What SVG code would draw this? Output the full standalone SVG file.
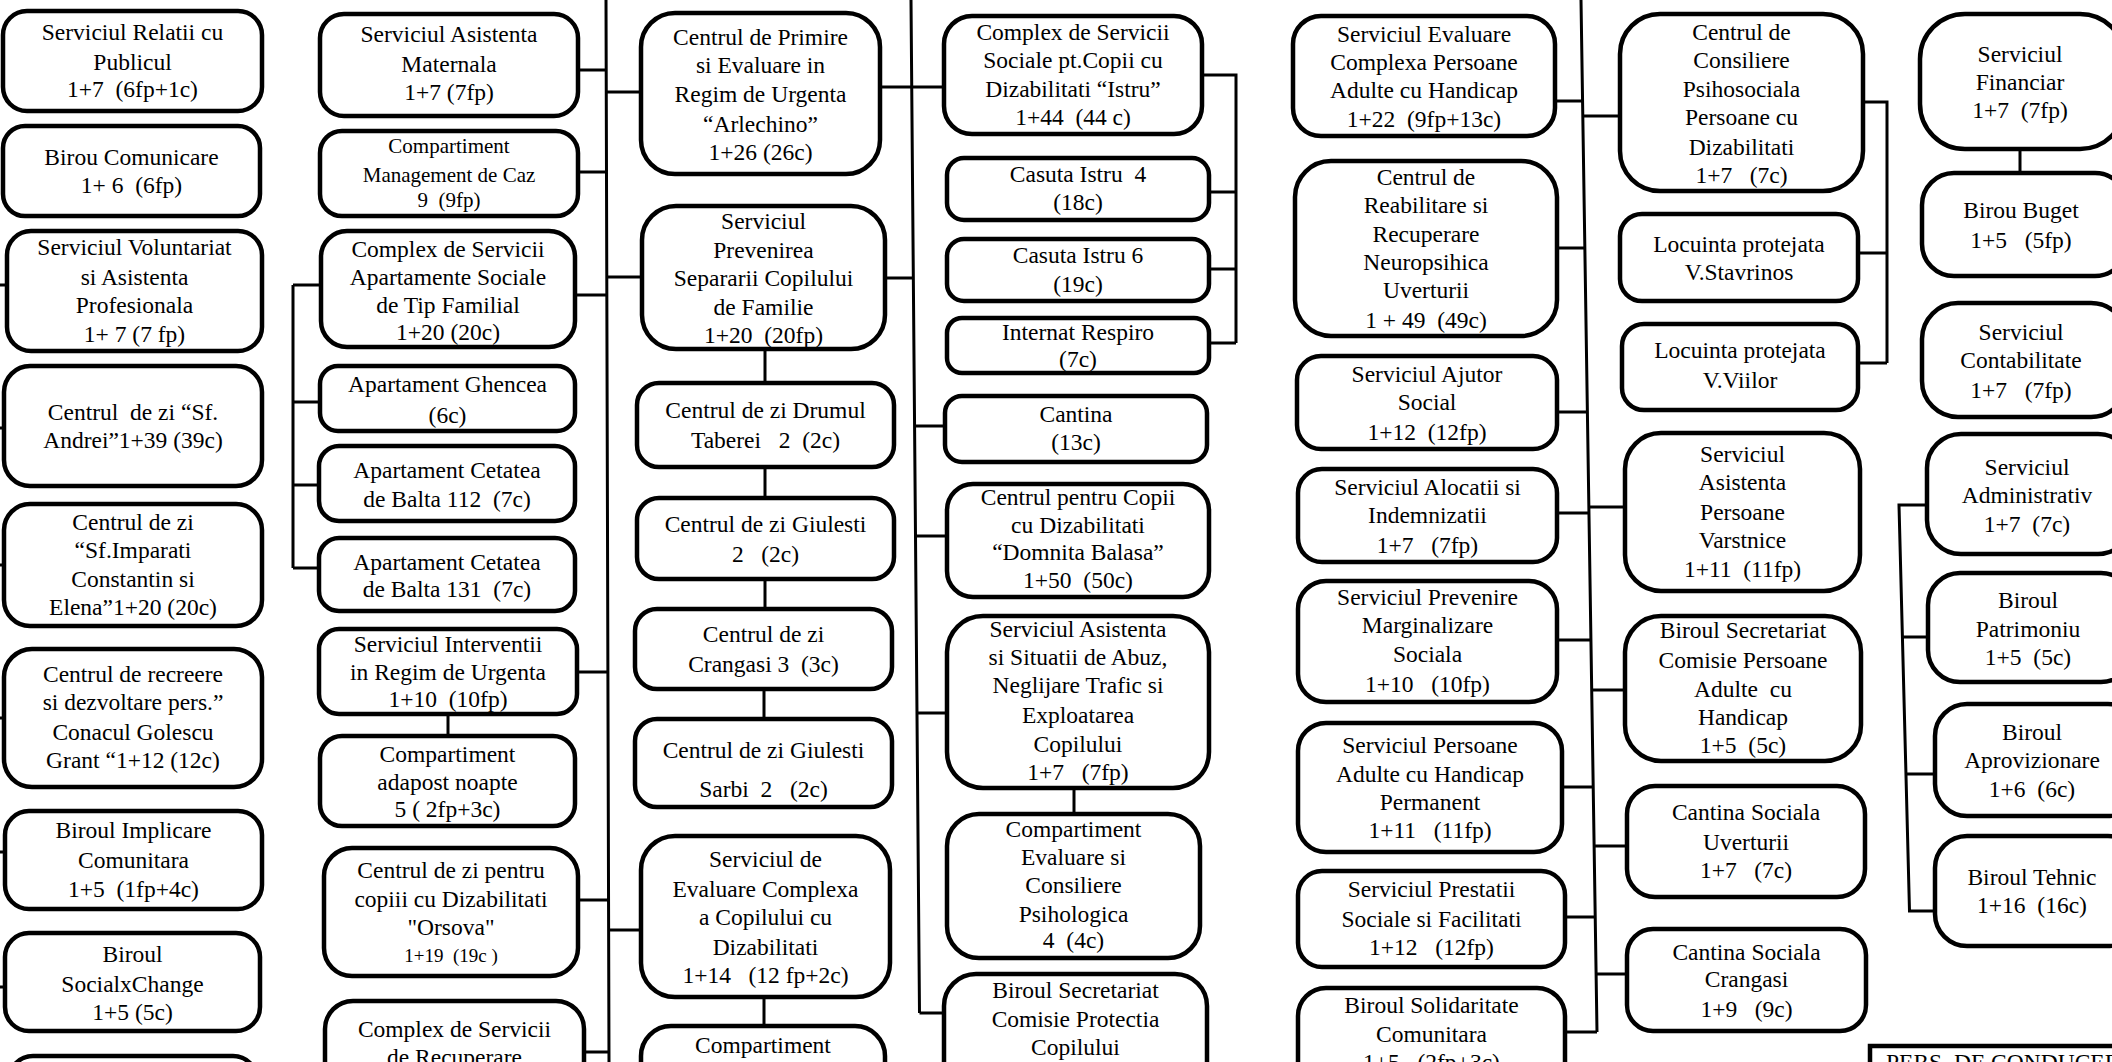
<svg xmlns="http://www.w3.org/2000/svg" width="2112" height="1062" viewBox="0 0 2112 1062">
<style>
.b{fill:#fff;stroke:#000;stroke-width:4.5}
.q{fill:#fff;stroke:#000;stroke-width:4.5}
.t{font-family:"Liberation Serif","Times New Roman",serif;font-size:23.5px;text-anchor:middle;fill:#000}
.s{font-size:21px}
.xs{font-size:19px}
.c{stroke:#000;stroke-width:3;fill:none}
</style>
<rect x="0" y="0" width="2112" height="1062" fill="#fff"/>
<g id="connectors">
<path class="c" d="M0 285H7M0 428H4M0 565H4M0 718H4M0 852H5M0 987H5"/>
<path class="c" d="M293 285V568M293 285H321M293 402H320M293 485H319M293 568H319"/>
<path class="c" d="M606 0L609 1062M578 70H606M578 172H606M575 295H606M606 92H641M606 277H642M577 672H607M578 900H608M608 930H641M584 1052H609"/>
<path class="c" d="M448 714V736"/>
<path class="c" d="M911 0L919.5 1013M880 87H944M885 278H914M915.5 426H945M916 536H947M918 713H947M919.5 1013H944"/>
<path class="c" d="M765 349V383M765 467V498M765 579V609M764 689V719M764 997V1026"/>
<path class="c" d="M1202 75H1236V343M1209 192H1236M1209 269H1236M1209 343H1236"/>
<path class="c" d="M1074 788V814"/>
<path class="c" d="M1581 0L1597 1032M1555 101H1582.5M1557 248H1585M1557 412H1587M1557 513H1589M1557 640H1591M1562 787H1593M1565 917H1595M1565 1032H1597M1583 116H1620M1589 507H1625M1592 690H1625M1594 846H1627M1596 974H1627"/>
<path class="c" d="M1863 102H1887V363M1858 253H1887M1858 363H1887"/>
<path class="c" d="M2020 149V173"/>
<path class="c" d="M1927 505H1899L1909.5 911H1935M1902.4 637H1928M1906 774H1935"/>
</g>
<g id="n1"><rect class="b" x="3" y="11" width="259" height="100" rx="24"/><text class="t" xml:space="preserve"><tspan x="132.5" y="40">Serviciul Relatii cu</tspan><tspan x="132.5" y="70">Publicul</tspan><tspan x="132.5" y="97">1+7  (6fp+1c)</tspan></text></g>
<g id="n2"><rect class="b" x="3" y="126" width="257" height="90" rx="22"/><text class="t" xml:space="preserve"><tspan x="131.5" y="165">Birou Comunicare</tspan><tspan x="131.5" y="193">1+ 6  (6fp)</tspan></text></g>
<g id="n3"><rect class="b" x="7" y="231" width="255" height="120" rx="24"/><text class="t" xml:space="preserve"><tspan x="134.5" y="255">Serviciul Voluntariat</tspan><tspan x="134.5" y="285">si Asistenta</tspan><tspan x="134.5" y="313">Profesionala</tspan><tspan x="134.5" y="342">1+ 7 (7 fp)</tspan></text></g>
<g id="n4"><rect class="b" x="4" y="366" width="258" height="120" rx="26"/><text class="t" xml:space="preserve"><tspan x="133" y="420">Centrul  de zi “Sf.</tspan><tspan x="133" y="448">Andrei”1+39 (39c)</tspan></text></g>
<g id="n5"><rect class="b" x="4" y="504" width="258" height="122" rx="26"/><text class="t" xml:space="preserve"><tspan x="133" y="530">Centrul de zi</tspan><tspan x="133" y="558">“Sf.Imparati</tspan><tspan x="133" y="587">Constantin si</tspan><tspan x="133" y="615">Elena”1+20 (20c)</tspan></text></g>
<g id="n6"><rect class="b" x="4" y="649" width="258" height="138" rx="28"/><text class="t" xml:space="preserve"><tspan x="133" y="682">Centrul de recreere</tspan><tspan x="133" y="710">si dezvoltare pers.”</tspan><tspan x="133" y="740">Conacul Golescu</tspan><tspan x="133" y="768">Grant “1+12 (12c)</tspan></text></g>
<g id="n7"><rect class="b" x="5" y="811" width="257" height="98" rx="24"/><text class="t" xml:space="preserve"><tspan x="133.5" y="838">Biroul Implicare</tspan><tspan x="133.5" y="868">Comunitara</tspan><tspan x="133.5" y="897">1+5  (1fp+4c)</tspan></text></g>
<g id="n8"><rect class="b" x="5" y="933" width="255" height="98" rx="24"/><text class="t" xml:space="preserve"><tspan x="132.5" y="962">Biroul</tspan><tspan x="132.5" y="992">SocialxChange</tspan><tspan x="132.5" y="1020">1+5 (5c)</tspan></text></g>
<g id="n9"><rect class="b" x="9" y="1056" width="248" height="80" rx="24"/></g>
<g id="n10"><rect class="b" x="320" y="14" width="258" height="102" rx="24"/><text class="t" xml:space="preserve"><tspan x="449" y="42">Serviciul Asistenta</tspan><tspan x="449" y="72">Maternala</tspan><tspan x="449" y="100">1+7 (7fp)</tspan></text></g>
<g id="n11"><rect class="b" x="320" y="131" width="258" height="85" rx="22"/><text class="t s" xml:space="preserve"><tspan x="449" y="153">Compartiment</tspan><tspan x="449" y="182">Management de Caz</tspan><tspan x="449" y="207">9  (9fp)</tspan></text></g>
<g id="n12"><rect class="b" x="321" y="231" width="254" height="116" rx="26"/><text class="t" xml:space="preserve"><tspan x="448" y="257">Complex de Servicii</tspan><tspan x="448" y="285">Apartamente Sociale</tspan><tspan x="448" y="313">de Tip Familial</tspan><tspan x="448" y="340">1+20 (20c)</tspan></text></g>
<g id="n13"><rect class="b" x="320" y="366" width="255" height="65" rx="18"/><text class="t" xml:space="preserve"><tspan x="447.5" y="392">Apartament Ghencea</tspan><tspan x="447.5" y="423">(6c)</tspan></text></g>
<g id="n14"><rect class="b" x="319" y="446" width="256" height="75" rx="20"/><text class="t" xml:space="preserve"><tspan x="447" y="478">Apartament Cetatea</tspan><tspan x="447" y="507">de Balta 112  (7c)</tspan></text></g>
<g id="n15"><rect class="b" x="319" y="538" width="256" height="73" rx="20"/><text class="t" xml:space="preserve"><tspan x="447" y="570">Apartament Cetatea</tspan><tspan x="447" y="597">de Balta 131  (7c)</tspan></text></g>
<g id="n16"><rect class="b" x="319" y="629" width="258" height="85" rx="20"/><text class="t" xml:space="preserve"><tspan x="448" y="652">Serviciul Interventii</tspan><tspan x="448" y="680">in Regim de Urgenta</tspan><tspan x="448" y="707">1+10  (10fp)</tspan></text></g>
<g id="n17"><rect class="b" x="320" y="736" width="255" height="90" rx="22"/><text class="t" xml:space="preserve"><tspan x="447.5" y="762">Compartiment</tspan><tspan x="447.5" y="790">adapost noapte</tspan><tspan x="447.5" y="817">5 ( 2fp+3c)</tspan></text></g>
<g id="n18"><rect class="b" x="324" y="848" width="254" height="128" rx="28"/><text class="t" xml:space="preserve"><tspan x="451" y="878">Centrul de zi pentru</tspan><tspan x="451" y="907">copiii cu Dizabilitati</tspan><tspan x="451" y="935">"Orsova"</tspan><tspan x="451" y="962" class="xs">1+19  (19c )</tspan></text></g>
<g id="n19"><rect class="b" x="325" y="1001" width="259" height="100" rx="28"/><text class="t" xml:space="preserve"><tspan x="454.5" y="1037">Complex de Servicii</tspan><tspan x="454.5" y="1065">de Recuperare</tspan></text></g>
<g id="n20"><rect class="b" x="641" y="13" width="239" height="161" rx="34"/><text class="t" xml:space="preserve"><tspan x="760.5" y="45">Centrul de Primire</tspan><tspan x="760.5" y="73">si Evaluare in</tspan><tspan x="760.5" y="102">Regim de Urgenta</tspan><tspan x="760.5" y="132">“Arlechino”</tspan><tspan x="760.5" y="160">1+26 (26c)</tspan></text></g>
<g id="n21"><rect class="b" x="642" y="206" width="243" height="143" rx="34"/><text class="t" xml:space="preserve"><tspan x="763.5" y="229">Serviciul</tspan><tspan x="763.5" y="258">Prevenirea</tspan><tspan x="763.5" y="286">Separarii Copilului</tspan><tspan x="763.5" y="315">de Familie</tspan><tspan x="763.5" y="343">1+20  (20fp)</tspan></text></g>
<g id="n22"><rect class="b" x="637" y="383" width="257" height="84" rx="22"/><text class="t" xml:space="preserve"><tspan x="765.5" y="418">Centrul de zi Drumul</tspan><tspan x="765.5" y="448">Taberei   2  (2c)</tspan></text></g>
<g id="n23"><rect class="b" x="637" y="498" width="257" height="81" rx="22"/><text class="t" xml:space="preserve"><tspan x="765.5" y="532">Centrul de zi Giulesti</tspan><tspan x="765.5" y="562">2   (2c)</tspan></text></g>
<g id="n24"><rect class="b" x="635" y="609" width="257" height="80" rx="22"/><text class="t" xml:space="preserve"><tspan x="763.5" y="642">Centrul de zi</tspan><tspan x="763.5" y="672">Crangasi 3  (3c)</tspan></text></g>
<g id="n25"><rect class="b" x="635" y="719" width="257" height="88" rx="22"/><text class="t" xml:space="preserve"><tspan x="763.5" y="758">Centrul de zi Giulesti</tspan><tspan x="763.5" y="797">Sarbi  2   (2c)</tspan></text></g>
<g id="n26"><rect class="b" x="641" y="836" width="249" height="161" rx="34"/><text class="t" xml:space="preserve"><tspan x="765.5" y="867">Serviciul de</tspan><tspan x="765.5" y="897">Evaluare Complexa</tspan><tspan x="765.5" y="925">a Copilului cu</tspan><tspan x="765.5" y="955">Dizabilitati</tspan><tspan x="765.5" y="983">1+14   (12 fp+2c)</tspan></text></g>
<g id="n27"><rect class="b" x="641" y="1026" width="244" height="100" rx="30"/><text class="t" xml:space="preserve"><tspan x="763" y="1053">Compartiment</tspan></text></g>
<g id="n28"><rect class="b" x="944" y="16" width="258" height="118" rx="28"/><text class="t" xml:space="preserve"><tspan x="1073" y="40">Complex de Servicii</tspan><tspan x="1073" y="68">Sociale pt.Copii cu</tspan><tspan x="1073" y="97">Dizabilitati “Istru”</tspan><tspan x="1073" y="125">1+44  (44 c)</tspan></text></g>
<g id="n29"><rect class="b" x="947" y="158" width="262" height="62" rx="17"/><text class="t" xml:space="preserve"><tspan x="1078" y="182">Casuta Istru  4</tspan><tspan x="1078" y="210">(18c)</tspan></text></g>
<g id="n30"><rect class="b" x="947" y="239" width="262" height="62" rx="17"/><text class="t" xml:space="preserve"><tspan x="1078" y="263">Casuta Istru 6</tspan><tspan x="1078" y="292">(19c)</tspan></text></g>
<g id="n31"><rect class="b" x="947" y="318" width="262" height="55" rx="15"/><text class="t" xml:space="preserve"><tspan x="1078" y="340">Internat Respiro</tspan><tspan x="1078" y="367">(7c)</tspan></text></g>
<g id="n32"><rect class="b" x="945" y="396" width="262" height="66" rx="17"/><text class="t" xml:space="preserve"><tspan x="1076" y="422">Cantina</tspan><tspan x="1076" y="450">(13c)</tspan></text></g>
<g id="n33"><rect class="b" x="947" y="484" width="262" height="113" rx="26"/><text class="t" xml:space="preserve"><tspan x="1078" y="505">Centrul pentru Copii</tspan><tspan x="1078" y="533">cu Dizabilitati</tspan><tspan x="1078" y="560">“Domnita Balasa”</tspan><tspan x="1078" y="588">1+50  (50c)</tspan></text></g>
<g id="n34"><rect class="b" x="947" y="616" width="262" height="172" rx="36"/><text class="t" xml:space="preserve"><tspan x="1078" y="637">Serviciul Asistenta</tspan><tspan x="1078" y="665">si Situatii de Abuz,</tspan><tspan x="1078" y="693">Neglijare Trafic si</tspan><tspan x="1078" y="723">Exploatarea</tspan><tspan x="1078" y="752">Copilului</tspan><tspan x="1078" y="780">1+7   (7fp)</tspan></text></g>
<g id="n35"><rect class="b" x="947" y="814" width="253" height="144" rx="32"/><text class="t" xml:space="preserve"><tspan x="1073.5" y="837">Compartiment</tspan><tspan x="1073.5" y="865">Evaluare si</tspan><tspan x="1073.5" y="893">Consiliere</tspan><tspan x="1073.5" y="922">Psihologica</tspan><tspan x="1073.5" y="948">4  (4c)</tspan></text></g>
<g id="n36"><rect class="b" x="944" y="974" width="263" height="120" rx="32"/><text class="t" xml:space="preserve"><tspan x="1075.5" y="998">Biroul Secretariat</tspan><tspan x="1075.5" y="1027">Comisie Protectia</tspan><tspan x="1075.5" y="1055">Copilului</tspan></text></g>
<g id="n37"><rect class="b" x="1293" y="16" width="262" height="120" rx="28"/><text class="t" xml:space="preserve"><tspan x="1424" y="42">Serviciul Evaluare</tspan><tspan x="1424" y="70">Complexa Persoane</tspan><tspan x="1424" y="98">Adulte cu Handicap</tspan><tspan x="1424" y="127">1+22  (9fp+13c)</tspan></text></g>
<g id="n38"><rect class="b" x="1295" y="161" width="262" height="175" rx="36"/><text class="t" xml:space="preserve"><tspan x="1426" y="185">Centrul de</tspan><tspan x="1426" y="213">Reabilitare si</tspan><tspan x="1426" y="242">Recuperare</tspan><tspan x="1426" y="270">Neuropsihica</tspan><tspan x="1426" y="298">Uverturii</tspan><tspan x="1426" y="328">1 + 49  (49c)</tspan></text></g>
<g id="n39"><rect class="b" x="1297" y="356" width="260" height="93" rx="24"/><text class="t" xml:space="preserve"><tspan x="1427" y="382">Serviciul Ajutor</tspan><tspan x="1427" y="410">Social</tspan><tspan x="1427" y="440">1+12  (12fp)</tspan></text></g>
<g id="n40"><rect class="b" x="1298" y="469" width="259" height="93" rx="24"/><text class="t" xml:space="preserve"><tspan x="1427.5" y="495">Serviciul Alocatii si</tspan><tspan x="1427.5" y="523">Indemnizatii</tspan><tspan x="1427.5" y="553">1+7   (7fp)</tspan></text></g>
<g id="n41"><rect class="b" x="1298" y="581" width="259" height="121" rx="28"/><text class="t" xml:space="preserve"><tspan x="1427.5" y="605">Serviciul Prevenire</tspan><tspan x="1427.5" y="633">Marginalizare</tspan><tspan x="1427.5" y="662">Sociala</tspan><tspan x="1427.5" y="692">1+10   (10fp)</tspan></text></g>
<g id="n42"><rect class="b" x="1298" y="723" width="264" height="129" rx="28"/><text class="t" xml:space="preserve"><tspan x="1430" y="753">Serviciul Persoane</tspan><tspan x="1430" y="782">Adulte cu Handicap</tspan><tspan x="1430" y="810">Permanent</tspan><tspan x="1430" y="838">1+11   (11fp)</tspan></text></g>
<g id="n43"><rect class="b" x="1298" y="871" width="267" height="96" rx="24"/><text class="t" xml:space="preserve"><tspan x="1431.5" y="897">Serviciul Prestatii</tspan><tspan x="1431.5" y="927">Sociale si Facilitati</tspan><tspan x="1431.5" y="955">1+12   (12fp)</tspan></text></g>
<g id="n44"><rect class="b" x="1298" y="988" width="267" height="110" rx="28"/><text class="t" xml:space="preserve"><tspan x="1431.5" y="1013">Biroul Solidaritate</tspan><tspan x="1431.5" y="1042">Comunitara</tspan><tspan x="1431.5" y="1070">1+5   (2fp+3c)</tspan></text></g>
<g id="n45"><rect class="b" x="1620" y="14" width="243" height="177" rx="40"/><text class="t" xml:space="preserve"><tspan x="1741.5" y="40">Centrul de</tspan><tspan x="1741.5" y="68">Consiliere</tspan><tspan x="1741.5" y="97">Psihosociala</tspan><tspan x="1741.5" y="125">Persoane cu</tspan><tspan x="1741.5" y="155">Dizabilitati</tspan><tspan x="1741.5" y="183">1+7   (7c)</tspan></text></g>
<g id="n46"><rect class="b" x="1620" y="214" width="238" height="87" rx="22"/><text class="t" xml:space="preserve"><tspan x="1739" y="252">Locuinta protejata</tspan><tspan x="1739" y="280">V.Stavrinos</tspan></text></g>
<g id="n47"><rect class="b" x="1622" y="324" width="236" height="86" rx="22"/><text class="t" xml:space="preserve"><tspan x="1740" y="358">Locuinta protejata</tspan><tspan x="1740" y="388">V.Viilor</tspan></text></g>
<g id="n48"><rect class="b" x="1625" y="433" width="235" height="158" rx="36"/><text class="t" xml:space="preserve"><tspan x="1742.5" y="462">Serviciul</tspan><tspan x="1742.5" y="490">Asistenta</tspan><tspan x="1742.5" y="520">Persoane</tspan><tspan x="1742.5" y="548">Varstnice</tspan><tspan x="1742.5" y="577">1+11  (11fp)</tspan></text></g>
<g id="n49"><rect class="b" x="1625" y="616" width="236" height="145" rx="36"/><text class="t" xml:space="preserve"><tspan x="1743" y="638">Biroul Secretariat</tspan><tspan x="1743" y="668">Comisie Persoane</tspan><tspan x="1743" y="697">Adulte  cu</tspan><tspan x="1743" y="725">Handicap</tspan><tspan x="1743" y="753">1+5  (5c)</tspan></text></g>
<g id="n50"><rect class="b" x="1627" y="786" width="238" height="111" rx="28"/><text class="t" xml:space="preserve"><tspan x="1746" y="820">Cantina Sociala</tspan><tspan x="1746" y="850">Uverturii</tspan><tspan x="1746" y="878">1+7   (7c)</tspan></text></g>
<g id="n51"><rect class="b" x="1627" y="929" width="239" height="102" rx="26"/><text class="t" xml:space="preserve"><tspan x="1746.5" y="960">Cantina Sociala</tspan><tspan x="1746.5" y="987">Crangasi</tspan><tspan x="1746.5" y="1017">1+9   (9c)</tspan></text></g>
<g id="n52"><rect class="b" x="1920" y="14" width="205" height="135" rx="45"/><text class="t" xml:space="preserve"><tspan x="2020" y="62">Serviciul</tspan><tspan x="2020" y="90">Financiar</tspan><tspan x="2020" y="118">1+7  (7fp)</tspan></text></g>
<g id="n53"><rect class="b" x="1922" y="173" width="205" height="103" rx="32"/><text class="t" xml:space="preserve"><tspan x="2021" y="218">Birou Buget</tspan><tspan x="2021" y="248">1+5   (5fp)</tspan></text></g>
<g id="n54"><rect class="b" x="1922" y="303" width="205" height="114" rx="36"/><text class="t" xml:space="preserve"><tspan x="2021" y="340">Serviciul</tspan><tspan x="2021" y="368">Contabilitate</tspan><tspan x="2021" y="398">1+7   (7fp)</tspan></text></g>
<g id="n55"><rect class="b" x="1927" y="434" width="205" height="120" rx="34"/><text class="t" xml:space="preserve"><tspan x="2027" y="475">Serviciul</tspan><tspan x="2027" y="503">Administrativ</tspan><tspan x="2027" y="532">1+7  (7c)</tspan></text></g>
<g id="n56"><rect class="b" x="1928" y="573" width="205" height="109" rx="32"/><text class="t" xml:space="preserve"><tspan x="2028" y="608">Biroul</tspan><tspan x="2028" y="637">Patrimoniu</tspan><tspan x="2028" y="665">1+5  (5c)</tspan></text></g>
<g id="n57"><rect class="b" x="1935" y="704" width="205" height="112" rx="32"/><text class="t" xml:space="preserve"><tspan x="2032" y="740">Biroul</tspan><tspan x="2032" y="768">Aprovizionare</tspan><tspan x="2032" y="797">1+6  (6c)</tspan></text></g>
<g id="n58"><rect class="b" x="1935" y="836" width="205" height="110" rx="32"/><text class="t" xml:space="preserve"><tspan x="2032" y="885">Biroul Tehnic</tspan><tspan x="2032" y="913">1+16  (16c)</tspan></text></g>
<g id="n59"><rect class="q" x="1870" y="1046" width="260" height="60"/><text class="t" style="text-anchor:start" xml:space="preserve" x="1886" y="1070">PERS. DE CONDUCERE</text></g>
</svg>
